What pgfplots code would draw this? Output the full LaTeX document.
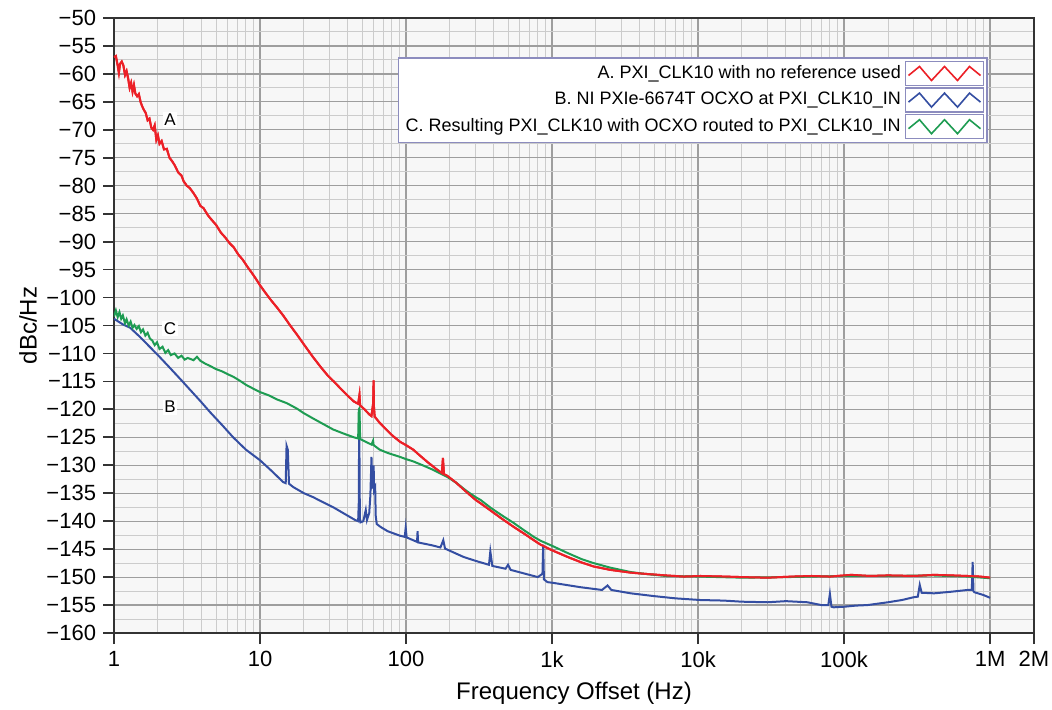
\documentclass[border=0pt]{standalone}
\usepackage{fontspec}
\setmainfont{Liberation Sans}
\usepackage{pgfplots}
\usepackage{pgfplotstable}
\pgfplotsset{compat=1.18}
\definecolor{cA}{RGB}{236,32,39}
\definecolor{cB}{RGB}{52,78,162}
\definecolor{cC}{RGB}{30,156,82}
\definecolor{legbord}{RGB}{140,140,190}
\pgfplotsset{zig/.style={legend image code/.code={
  \draw[draw=legbord,line width=0.7pt,fill=white,solid] (0pt,-6pt) rectangle (39pt,6pt);
  \draw[##1,line width=0.8pt,line join=miter] (1.5pt,-1pt)--(7pt,3.5pt)--(13pt,-3.5pt)--(19.5pt,3.5pt)--(26pt,-3.5pt)--(32pt,3.5pt)--(37.5pt,-1pt);
}}}

\pgfplotstableread{
f v
1.00 -57.0
1.03 -56.8
1.06 -58.5
1.08 -59.8
1.10 -58.2
1.13 -57.8
1.16 -58.5
1.19 -60.2
1.22 -59.5
1.25 -60.8
1.28 -62.5
1.31 -61.6
1.34 -63.2
1.37 -62.0
1.40 -63.5
1.44 -64.0
1.48 -63.6
1.52 -65.0
1.56 -65.8
1.60 -66.4
1.65 -67.0
1.70 -68.3
1.75 -68.0
1.80 -69.6
1.85 -70.0
1.90 -69.2
1.95 -71.8
2.00 -71.0
2.05 -72.5
2.12 -72.0
2.20 -73.5
2.30 -73.4
2.40 -75.0
2.50 -75.6
2.60 -76.3
2.75 -77.6
2.90 -78.2
3.00 -79.2
3.15 -80.0
3.30 -80.4
3.50 -81.3
3.70 -82.3
3.90 -83.6
4.10 -84.0
4.40 -85.3
4.70 -86.2
5.00 -87.0
5.40 -88.4
5.80 -89.3
6.20 -90.3
6.60 -91.0
7.10 -92.3
7.60 -93.2
8.20 -94.5
8.80 -95.6
9.40 -96.7
10 -97.8
11 -99.3
12 -100.6
13 -101.7
14.5 -103.3
16 -104.9
18 -106.7
20 -108.4
23 -110.6
26 -112.4
29 -113.9
32 -115.0
36 -116.4
40 -117.6
44 -118.6
47 -119.0
48 -117.4
48.5 -119.3
52 -120.0
56 -120.9
58 -121.2
59.5 -119.0
60 -114.8
60.3 -119.5
61 -121.3
66 -122.4
72 -123.4
80 -124.6
91 -125.8
100 -126.4
112 -127.2
125 -128.3
140 -129.4
160 -130.6
176 -131.4
179 -128.7
182 -131.6
192 -131.9
220 -133.1
260 -134.8
300 -136.2
324 -136.8
380 -138.1
450 -139.5
545 -141.0
650 -142.3
750 -143.4
835 -144.2
1000 -145.2
1280 -146.4
1600 -147.4
1930 -148.1
2500 -148.7
3460 -149.2
4250 -149.4
6000 -149.7
8000 -149.9
10400 -149.8
15000 -149.9
20000 -150.0
30000 -150.1
45000 -149.9
60000 -149.8
80000 -149.9
112000 -149.6
150000 -149.8
200000 -149.7
300000 -149.8
414000 -149.6
550000 -149.7
700000 -149.8
850000 -149.9
1000000 -150.1
}\dataA

\pgfplotstableread{
f v
1.00 -103.8
1.15 -104.8
1.29 -105.4
1.50 -107.0
1.77 -108.9
2.05 -110.6
2.42 -112.6
2.85 -114.6
3.32 -116.5
3.90 -118.5
4.55 -120.5
5.50 -122.8
6.55 -125.0
8.00 -127.2
10 -129.1
12 -131.0
14.4 -133.0
15.0 -133.2
15.2 -126.5
15.5 -127.2
15.8 -133.3
16.9 -133.9
20 -135.0
23.1 -135.7
27 -136.6
31.7 -137.5
38 -138.7
44.9 -139.8
47 -140.0
47.5 -136.5
47.8 -120.3
48.3 -139.5
48.8 -140.2
51 -140.0
53 -138.0
54 -139.8
56 -138.5
57 -135.4
58 -128.5
58.5 -134.0
59.5 -133.8
60 -130.0
60.5 -134.5
61.5 -134.0
62 -139.0
63 -140.5
66.7 -141.0
75 -141.8
91 -142.6
98 -142.8
99.5 -141.2
101 -142.9
119 -143.7
120 -141.8
121 -143.8
150 -144.3
172 -144.7
180 -143.4
185 -144.9
248 -146.4
300 -147.1
370 -147.8
378 -145.4
390 -148.0
480 -148.5
500 -147.8
520 -148.7
700 -149.6
800 -150.0
860 -149.4
870 -144.2
880 -150.4
930 -150.9
1000 -151.0
1560 -151.8
2200 -152.3
2400 -151.5
2550 -152.3
3460 -152.9
5000 -153.4
7000 -153.8
10400 -154.1
15000 -154.2
20000 -154.4
30000 -154.5
40000 -154.3
56000 -154.5
70000 -155.0
78000 -155.0
80000 -153.0
82000 -155.3
85000 -155.4
100000 -155.3
120000 -155.1
145000 -155.0
200000 -154.5
249000 -154.1
300000 -153.6
320000 -153.5
330000 -151.4
340000 -152.8
414000 -152.9
550000 -152.6
700000 -152.3
750000 -152.3
760000 -147.3
770000 -152.5
780000 -152.7
900000 -153.2
1000000 -153.7
}\dataB

\pgfplotstableread{
f v
1.00 -103.4
1.03 -102.3
1.06 -103.5
1.09 -102.6
1.12 -103.8
1.15 -103.2
1.19 -104.6
1.22 -103.9
1.26 -105.0
1.30 -104.3
1.34 -105.4
1.38 -104.9
1.43 -105.6
1.48 -105.1
1.53 -106.2
1.58 -105.7
1.64 -106.8
1.70 -106.3
1.76 -107.3
1.83 -107.7
1.90 -108.5
1.97 -108.0
2.05 -109.2
2.15 -108.8
2.25 -109.9
2.35 -109.4
2.45 -110.3
2.60 -110.0
2.75 -110.8
2.90 -110.4
3.05 -111.1
3.20 -110.8
3.50 -111.2
3.70 -110.6
3.90 -111.3
4.20 -111.8
4.60 -112.3
5.00 -112.8
5.50 -113.2
6.00 -113.7
6.60 -114.2
7.30 -114.9
8.00 -115.6
9.00 -116.3
10 -116.9
11.5 -117.5
13 -118.2
15.3 -118.9
18 -119.9
20 -120.7
23 -121.6
27 -122.6
31.7 -123.6
38 -124.4
44 -125.0
47 -125.2
47.5 -120.0
48 -119.8
48.5 -125.3
53 -125.8
58 -126.3
59.5 -125.6
60 -126.4
66 -127.2
75 -127.8
91 -128.5
100 -128.9
112 -129.3
130 -130.0
150 -130.7
170 -131.4
192 -132.1
220 -133.1
260 -134.6
300 -135.7
324 -136.2
380 -137.6
450 -138.9
545 -140.3
650 -141.7
750 -142.8
835 -143.5
1000 -144.4
1280 -145.7
1600 -146.8
1930 -147.5
2500 -148.3
3460 -149.1
4250 -149.4
6000 -149.8
10000 -149.9
20000 -150.1
40000 -150.0
100000 -149.8
200000 -149.8
400000 -149.7
700000 -149.9
1000000 -150.2
}\dataC

\begin{document}
\begin{tikzpicture}
\begin{axis}[
  at={(0,0)}, anchor=south west,
  width=460pt, height=307.5pt, scale only axis,
  xmode=log, log basis x=10,
  xmin=1, xmax=2e6, ymin=-160, ymax=-50,
  xtick={1,10,100,1000,10000,100000,1000000,2000000},
  xticklabels={1,10,100,1k,10k,100k,1M,2M},
  minor xtick={2,3,4,5,6,7,8,9,20,30,40,50,60,70,80,90,200,300,400,500,600,700,800,900,2000,3000,4000,5000,6000,7000,8000,9000,20000,30000,40000,50000,60000,70000,80000,90000,200000,300000,400000,500000,600000,700000,800000,900000},
  ytick={-160,-155,...,-50},
  yticklabels={−160,−155,−150,−145,−140,−135,−130,−125,−120,−115,−110,−105,−100,−95,−90,−85,−80,−75,−70,−65,−60,−55,−50},
  minor ytick={-157.5,-152.5,...,-52.5},
  grid=both,
  major grid style={draw=black!38, line width=0.6pt},
  minor grid style={draw=black!20, line width=0.5pt},
  tick pos=left, tick align=outside,
  major tick length=5.5pt, minor tick length=0pt,
  tick style={draw=black!80, line width=0.9pt},
  axis line style={draw=black!80, line width=0.9pt},
  axis background/.style={fill=black!3},
  ticklabel style={font=\fontsize{11}{12}\selectfont},
  xlabel={Frequency Offset (Hz)},
  ylabel={dBc/Hz},
  label style={font=\fontsize{12}{14}\selectfont},
  xlabel style={at={(axis description cs:0.5,-0.0976)}, anchor=center},
  ylabel style={at={(axis description cs:-0.0935,0.5)}, anchor=center},
  legend style={at={(axis description cs:0.95,0.9366)}, anchor=north east,
     draw=legbord, line width=0.8pt, fill=white,
     font=\fontsize{9}{10}\selectfont, row sep=0.6pt, inner sep=1.5pt,
     nodes={inner sep=2pt}},
  legend cell align=right,
  legend plot pos=right,
]
\addplot[cA, line width=1pt, zig] table[x=f,y=v] {\dataA};
\addlegendentry{A. PXI\_CLK10 with no reference used}
\addplot[cB, line width=1pt, zig] table[x=f,y=v] {\dataB};
\addlegendentry{B. NI PXIe-6674T OCXO at PXI\_CLK10\_IN}
\addplot[cC, line width=1pt, zig] table[x=f,y=v] {\dataC};
\addlegendentry{C. Resulting PXI\_CLK10 with OCXO routed to PXI\_CLK10\_IN}
\addplot[cA, line width=1pt, forget plot] table[x=f,y=v] {\dataA};
\node[font=\fontsize{8.5}{9.5}\selectfont, fill=white, inner sep=0.8pt] at (axis cs:2.42,-68.2) {A};
\node[font=\fontsize{8.5}{9.5}\selectfont, fill=white, inner sep=0.8pt] at (axis cs:2.42,-105.5) {C};
\node[font=\fontsize{8.5}{9.5}\selectfont, fill=white, inner sep=0.8pt] at (axis cs:2.42,-119.6) {B};
\end{axis}
\pgfresetboundingbox
\path (-57pt,-38pt) rectangle (469pt,316.5pt);
\end{tikzpicture}
\end{document}
